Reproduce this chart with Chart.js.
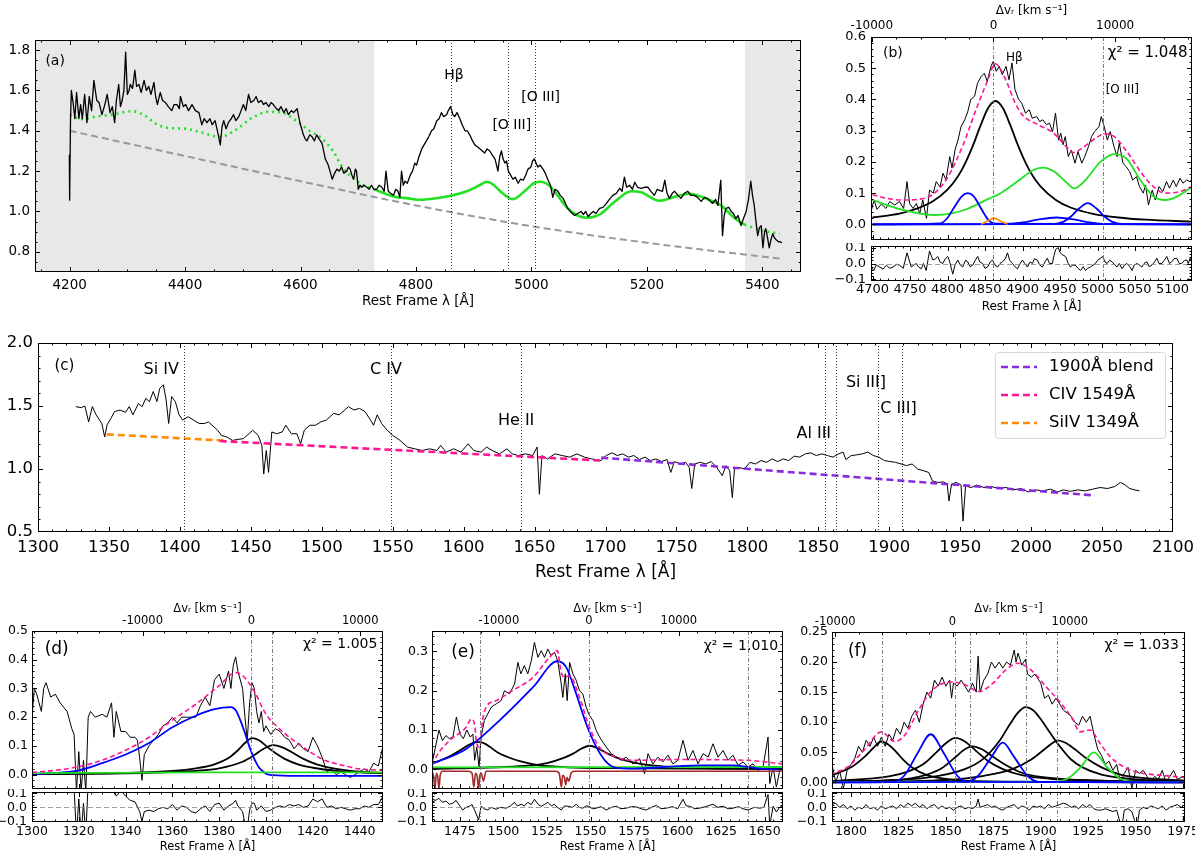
<!DOCTYPE html>
<html>
<head>
<meta charset="utf-8">
<title>Spectral decomposition</title>
<script src="https://cdn.jsdelivr.net/npm/chart.js@4.4.1/dist/chart.umd.min.js"></script>
<style>
  html, body { margin: 0; padding: 0; background: #fff; }
  body { position: relative; width: 1200px; height: 859px; overflow: hidden; }
  canvas { position: absolute; }
</style>
</head>
<body>
<script>
// ----- Data (rest-frame wavelength [A], flux) -----

// (a) optical spectrum, Fe II template, power law
const A_SPEC = [
  [4199.5,1.28],[4200,1.056],[4201.5,1.45],[4203,1.60],[4206,1.54],[4209,1.46],[4212,1.59],[4216,1.46],[4219,1.53],[4222,1.46],
  [4226,1.58],[4230,1.44],[4234,1.57],[4238,1.50],[4242,1.65],[4247,1.55],[4251,1.54],[4256,1.48],[4261,1.53],[4265,1.58],
  [4270,1.49],[4274,1.52],[4278,1.44],[4281,1.55],[4285,1.63],[4288,1.52],[4291,1.55],[4294,1.60],[4297,1.79],[4300,1.58],
  [4303,1.60],[4305,1.63],[4309,1.61],[4313,1.70],[4316,1.62],[4320,1.63],[4324,1.59],[4329,1.65],[4333,1.60],[4337,1.62],
  [4341,1.58],[4346,1.64],[4349,1.57],[4352,1.53],[4357,1.59],[4361,1.55],[4366,1.54],[4371,1.52],[4377,1.50],[4381,1.53],
  [4386,1.53],[4390,1.51],[4392,1.57],[4397,1.52],[4401,1.53],[4406,1.50],[4412,1.53],[4418,1.50],[4424,1.49],[4429,1.43],
  [4433,1.46],[4438,1.44],[4443,1.46],[4447,1.43],[4452,1.45],[4456,1.40],[4461,1.33],[4464,1.42],[4467,1.45],[4471,1.41],
  [4475,1.44],[4480,1.46],[4484,1.48],[4488,1.45],[4493,1.47],[4497,1.50],[4501,1.53],[4505,1.50],[4510,1.58],[4514,1.54],
  [4519,1.55],[4523,1.57],[4527,1.54],[4532,1.55],[4536,1.53],[4540,1.54],[4545,1.52],[4549,1.54],[4553,1.53],[4558,1.51],
  [4562,1.50],[4566,1.52],[4571,1.49],[4575,1.51],[4579,1.48],[4584,1.50],[4588,1.49],[4594,1.51],[4599,1.44],[4602,1.41],
  [4605,1.38],[4608,1.36],[4611,1.35],[4616,1.38],[4620,1.37],[4624,1.35],[4628,1.38],[4632,1.36],[4637,1.34],[4640,1.30],
  [4643,1.26],[4648,1.23],[4652,1.19],[4655,1.16],[4659,1.19],[4663,1.21],[4667,1.20],[4671,1.22],[4675,1.19],[4680,1.20],
  [4683,1.22],[4686,1.21],[4689,1.18],[4692,1.16],[4695,1.21],[4697,1.20],[4700,1.11],[4703,1.13],[4706,1.12],[4710,1.13],
  [4715,1.12],[4719,1.11],[4723,1.13],[4727,1.11],[4732,1.11],[4736,1.13],[4741,1.12],[4745,1.10],[4748,1.20],[4752,1.10],
  [4756,1.09],[4761,1.08],[4765,1.11],[4769,1.10],[4772,1.07],[4775,1.20],[4778,1.13],[4781,1.15],[4785,1.14],[4790,1.18],
  [4794,1.20],[4798,1.24],[4801,1.23],[4805,1.27],[4810,1.31],[4814,1.33],[4818,1.35],[4822,1.37],[4827,1.40],[4831,1.41],
  [4836,1.45],[4840,1.46],[4844,1.49],[4848,1.47],[4853,1.48],[4856,1.50],[4860,1.52],[4864,1.48],[4867,1.47],[4871,1.49],
  [4876,1.46],[4880,1.43],[4885,1.40],[4889,1.40],[4893,1.38],[4898,1.35],[4902,1.33],[4907,1.32],[4911,1.31],[4915,1.30],
  [4919,1.29],[4923,1.31],[4928,1.30],[4932,1.28],[4937,1.26],[4942,1.20],[4945,1.27],[4948,1.30],[4951,1.26],[4954,1.24],
  [4957,1.25],[4960,1.20],[4964,1.18],[4968,1.16],[4972,1.17],[4977,1.14],[4981,1.16],[4986,1.155],[4990,1.18],[4994,1.21],
  [4999,1.22],[5002,1.25],[5005,1.26],[5008,1.24],[5011,1.22],[5015,1.23],[5020,1.21],[5024,1.19],[5029,1.155],[5033,1.13],
  [5037,1.07],[5041,1.11],[5046,1.10],[5050,1.08],[5055,1.065],[5059,1.04],[5063,1.015],[5067,1.00],[5071,0.99],[5075,0.98],
  [5080,0.99],[5086,1.00],[5090,0.985],[5094,1.00],[5098,0.975],[5103,0.99],[5107,1.00],[5112,0.99],[5118,1.015],[5124,1.02],
  [5130,1.04],[5135,1.06],[5141,1.08],[5147,1.09],[5153,1.115],[5157,1.10],[5161,1.17],[5165,1.12],[5170,1.13],[5175,1.11],
  [5179,1.145],[5184,1.12],[5190,1.115],[5196,1.12],[5202,1.12],[5207,1.10],[5213,1.08],[5218,1.11],[5222,1.105],[5227,1.10],
  [5231,1.155],[5235,1.09],[5239,1.065],[5244,1.09],[5248,1.10],[5254,1.08],[5259,1.065],[5265,1.09],[5271,1.10],[5276,1.08],
  [5282,1.08],[5288,1.07],[5294,1.05],[5300,1.07],[5305,1.065],[5310,1.05],[5314,1.04],[5319,1.06],[5323,1.03],[5328,1.155],
  [5331,0.88],[5334,0.98],[5337,1.015],[5342,1.02],[5346,1.00],[5350,0.99],[5354,0.965],[5358,0.98],[5363,0.93],[5368,0.97],
  [5372,1.00],[5376,1.06],[5380,1.15],[5383,1.08],[5386,1.03],[5389,0.95],[5392,0.88],[5395,0.92],[5398,0.93],[5401,0.82],
  [5404,0.90],[5406,0.915],[5409,0.87],[5412,0.82],[5415,0.86],[5418,0.89],[5421,0.87],[5424,0.86],[5428,0.85],[5431,0.85],
  [5434,0.845]
];
const A_FE_LEFT = [[4200,1.478],[4222,1.458],[4245,1.47],[4274,1.48],[4308,1.497],[4329,1.478],[4349,1.436],[4369,1.415],
  [4401,1.41],[4424,1.395],[4461,1.37],[4487,1.403],[4516,1.464],[4545,1.494],[4568,1.49],[4591,1.453],[4614,1.403],
  [4637,1.362],[4657,1.296],[4674,1.213],[4692,1.164],[4706,1.134],[4726,1.112]];
const A_FE_FIT = [[4726,1.112],[4763,1.073],[4787,1.065],[4803,1.058],[4821,1.061],[4860,1.078],[4888,1.10],[4910,1.13],
  [4923,1.147],[4935,1.13],[4950,1.09],[4968,1.061],[4988,1.10],[5004,1.14],[5016,1.147],[5030,1.13],[5040,1.10],
  [5063,1.015],[5080,0.98],[5095,0.969],[5110,0.975],[5121,0.99],[5144,1.048],[5173,1.10],[5190,1.095],[5222,1.053],
  [5248,1.073],[5274,1.088],[5305,1.061],[5328,1.031],[5351,0.969],[5369,0.935]];
const A_FE_RIGHT = [[5369,0.935],[5398,0.907],[5430,0.89]];
const A_POWERLAW = [[4200,1.40],[4400,1.275],[4600,1.15],[4800,1.03],[5000,0.927],[5200,0.845],[5435,0.765]];
const A_FIT_WINDOW = [4728, 5370];
const A_LINES = [4861.3, 4958.9, 5006.8];
const A_XTICKS = [4200, 4400, 4600, 4800, 5000, 5200, 5400];
const A_YTICKS = [0.8, 1.0, 1.2, 1.4, 1.6, 1.8];

// (b) H-beta region fit
const B_SPEC = [
  [4698,0.040],[4702,0.078],[4706,0.048],[4712,0.065],[4718,0.051],[4723,0.073],[4729.5,0.062],[4736,0.073],[4741.5,0.051],[4746,0.137],
  [4749.5,0.067],[4754,0.051],[4758.5,0.067],[4763,0.035],[4767,0.078],[4772,0.019],[4776,0.11],[4781,0.10],[4785,0.137],[4790,0.12],
  [4794,0.164],[4798,0.142],[4803,0.217],[4806,0.18],[4810,0.238],[4814,0.27],[4818,0.313],[4823,0.335],[4827,0.361],[4831,0.40],
  [4836,0.41],[4840,0.452],[4845,0.474],[4849,0.484],[4853,0.458],[4858,0.506],[4861,0.522],[4865,0.49],[4869,0.506],[4873,0.479],
  [4878,0.506],[4882,0.463],[4886,0.517],[4890,0.431],[4895,0.40],[4899,0.388],[4904,0.356],[4909,0.367],[4913,0.34],[4919,0.345],
  [4923,0.329],[4927,0.335],[4932,0.319],[4936,0.324],[4940,0.297],[4944,0.356],[4948,0.27],[4951,0.292],[4954,0.255],[4957,0.281],
  [4961,0.217],[4965,0.238],[4970,0.196],[4974,0.233],[4979,0.196],[4983,0.217],[4988,0.249],[4992,0.281],[4996,0.297],[5002,0.313],
  [5005,0.345],[5009,0.313],[5013,0.27],[5017,0.297],[5022,0.249],[5026,0.217],[5029,0.26],[5034,0.196],[5038,0.185],[5043,0.169],
  [5047,0.142],[5052,0.153],[5056,0.121],[5061,0.10],[5064,0.126],[5068,0.062],[5073,0.11],[5077,0.078],[5082,0.121],[5087,0.105],
  [5092,0.137],[5096,0.116],[5101,0.142],[5105,0.121],[5110,0.148],[5114,0.132],[5119,0.142],[5123,0.137],[5125,0.142]
];
const B_TOTAL = [[4700,0.095],[4720,0.083],[4740,0.078],[4760,0.08],[4780,0.095],[4800,0.15],[4820,0.25],[4840,0.38],[4855,0.47],
  [4863,0.515],[4870,0.5],[4880,0.45],[4890,0.39],[4900,0.35],[4920,0.32],[4940,0.295],[4960,0.245],[4968,0.23],[4980,0.245],
  [5000,0.28],[5010,0.29],[5020,0.285],[5040,0.23],[5060,0.16],[5075,0.12],[5090,0.1],[5110,0.105],[5125,0.12]];
const B_BROAD = [[4700,0.022],[4720,0.028],[4740,0.037],[4760,0.051],[4780,0.073],[4800,0.111],[4814,0.154],[4824,0.198],
  [4834,0.253],[4844,0.316],[4854,0.372],[4864,0.395],[4874,0.372],[4884,0.316],[4894,0.253],[4904,0.198],[4914,0.154],
  [4924,0.122],[4944,0.079],[4964,0.054],[4994,0.034],[5028,0.022],[5064,0.015],[5125,0.009]];
const B_BLUE1 = [[4700,0],[4790,0.003],[4799,0.018],[4809,0.055],[4819,0.09],[4827,0.1],[4835,0.09],[4845,0.05],[4855,0.013],[4865,0.002],[5125,0]];
const B_BLUE2 = [[4700,0],[4880,0.001],[4900,0.006],[4920,0.015],[4945,0.022],[4970,0.015],[4990,0.006],[5010,0.001],[5125,0]];
const B_BLUE3 = [[4700,0],[4940,0.001],[4955,0.009],[4965,0.026],[4975,0.05],[4987,0.068],[4999,0.05],[5009,0.026],[5019,0.009],[5034,0.001],[5125,0]];
const B_NARROW = [[4845,0],[4853,0.01],[4862,0.02],[4871,0.01],[4880,0]];
const B_FEII = [[4700,0.078],[4738,0.048],[4783,0.03],[4805,0.035],[4827,0.05],[4853,0.08],[4871,0.1],[4893,0.137],[4915,0.175],
  [4928,0.182],[4942,0.169],[4960,0.131],[4969,0.115],[4982,0.137],[5004,0.2],[5022,0.225],[5039,0.21],[5057,0.142],
  [5075,0.089],[5090,0.078],[5106,0.089],[5125,0.119]];
const B_RESID = [
  [4698,-0.022],[4701.7,-0.044],[4705,-0.01],[4709.7,-0.022],[4714,-0.035],[4718.5,-0.011],[4723,-0.03],[4727.4,-0.022],[4732,-0.005],[4736.2,-0.011],
  [4741,-0.03],[4746,0.067],[4751.7,-0.022],[4755,-0.01],[4758.3,0.0],[4761,-0.02],[4765,-0.033],[4768,0.0],[4771.6,-0.044],[4776,0.078],
  [4780.5,0.022],[4784,0.03],[4787.1,0.044],[4790,0.01],[4793.7,0.0],[4797,0.03],[4800.4,0.044],[4803,0.01],[4807,-0.067],[4810,-0.01],
  [4813.7,0.022],[4817,-0.01],[4820.3,-0.022],[4824,0.02],[4827,0.011],[4830,-0.02],[4833.6,-0.011],[4837,0.02],[4840.2,0.044],[4843,0.01],
  [4846.8,0.0],[4850,-0.03],[4853.5,-0.022],[4857,0.01],[4860.1,0.022],[4863,-0.01],[4866.8,-0.022],[4870,0.0],[4873.4,0.011],[4877,0.03],
  [4880,0.067],[4883,0.02],[4886.7,0.0],[4890,-0.02],[4893.3,-0.033],[4897,0.0],[4899.9,0.022],[4903,0.0],[4906.6,-0.022],[4910,0.01],
  [4913.2,0.0],[4916,0.03],[4919.8,0.022],[4923,-0.01],[4926.5,-0.022],[4930,0.01],[4933.1,0.033],[4936,0.0],[4939.8,0.0],[4942,0.05],
  [4944.2,0.089],[4947.7,0.10],[4950,0.07],[4953,0.056],[4957.5,0.044],[4961,0.0],[4964.1,-0.022],[4967,-0.01],[4970.7,-0.011],[4974,-0.03],
  [4977.4,-0.044],[4981,-0.02],[4984,-0.044],[4987,-0.03],[4990.6,-0.022],[4994,-0.01],[4997.3,0.0],[5000,0.02],[5003.9,0.033],[5007,0.044],
  [5010,0.01],[5012.8,0.0],[5016,0.02],[5019.4,0.011],[5023,-0.01],[5026,-0.022],[5029,0.0],[5032.7,-0.033],[5036,-0.01],[5039.3,0.0],
  [5043,-0.02],[5046,-0.044],[5049,-0.01],[5052.6,0.0],[5056,-0.01],[5059.2,-0.022],[5062,0.0],[5065.9,0.011],[5069,-0.02],[5072.5,-0.011],
  [5076,0.01],[5079.1,0.033],[5082,0.0],[5085.8,0.0],[5089,0.02],[5092.4,0.044],[5096,0.0],[5099,0.011],[5102,0.03],[5105.7,0.033],
  [5109,0.0],[5112.3,0.0],[5116,0.02],[5119,0.022],[5121,0.0],[5123.4,0.033],[5125,0.02]
];
const B_LINES = [4861.3, 5006.8];
const B_XTICKS = [4700, 4750, 4800, 4850, 4900, 4950, 5000, 5050, 5100];
const B_YTICKS = [0.0, 0.1, 0.2, 0.3, 0.4, 0.5, 0.6];

// (c) UV spectrum with local power-law continua
const C_SPEC = [
  [1326.6,1.495],[1330.5,1.487],[1333,1.50],[1335.7,1.374],[1338.3,1.495],[1341,1.43],[1345,1.36],[1347,1.254],[1348.7,1.35],[1351.3,1.40],
  [1353.9,1.455],[1357.8,1.468],[1361.7,1.45],[1364.3,1.495],[1366.9,1.43],[1370.8,1.52],[1373.4,1.495],[1376,1.56],[1378.6,1.535],[1381.2,1.615],
  [1383.8,1.535],[1385.8,1.64],[1388.4,1.668],[1390.3,1.548],[1392.1,1.361],[1394.2,1.575],[1396.8,1.535],[1399.4,1.43],[1402,1.388],[1405.8,1.415],
  [1409.7,1.388],[1413.6,1.361],[1417.5,1.361],[1420.1,1.374],[1424,1.334],[1426.6,1.308],[1429.2,1.267],[1433.1,1.254],[1437,1.227],[1440.9,1.235],
  [1444.8,1.241],[1448.7,1.28],[1451.3,1.308],[1455.2,1.267],[1457.8,1.187],[1459.1,0.96],[1460.9,1.147],[1462.5,0.973],[1464.8,1.294],[1468.2,1.28],
  [1472.1,1.294],[1474.7,1.347],[1478.6,1.28],[1482.5,1.28],[1485.1,1.20],[1487.7,1.308],[1491.6,1.347],[1495.5,1.347],[1499.4,1.374],[1503.2,1.388],
  [1508.4,1.441],[1512.3,1.43],[1516.2,1.468],[1518.8,1.495],[1522.7,1.468],[1526.6,1.481],[1530.5,1.455],[1534.4,1.388],[1536.5,1.347],[1539.1,1.43],
  [1542.2,1.361],[1546.1,1.308],[1550,1.267],[1555.2,1.227],[1560.4,1.174],[1565.6,1.16],[1570.8,1.147],[1576,1.16],[1581.2,1.147],[1583.8,1.187],
  [1587.7,1.134],[1592.9,1.16],[1598.1,1.134],[1603.2,1.20],[1607.1,1.147],[1612.3,1.134],[1616.2,1.174],[1620.1,1.147],[1625.3,1.12],[1630.5,1.16],
  [1634.4,1.12],[1638.3,1.107],[1643.5,1.12],[1648.7,1.107],[1651.8,1.174],[1653.4,0.80],[1655.2,1.107],[1659.1,1.08],[1664.3,1.12],[1669.5,1.107],
  [1674.7,1.094],[1679.9,1.12],[1685.1,1.094],[1690.3,1.08],[1696.8,1.067],[1700.5,1.107],[1704.4,1.128],[1708.3,1.107],[1712.2,1.12],[1716.1,1.094],
  [1720,1.107],[1723.9,1.075],[1727.8,1.094],[1731.7,1.067],[1735.6,1.08],[1739.5,1.059],[1743.4,1.075],[1746,0.973],[1748.6,1.059],[1752.5,1.04],
  [1756.4,1.053],[1759,1.013],[1760.8,0.845],[1762.9,1.04],[1766.8,1.053],[1770.6,1.04],[1774.5,1.059],[1778.4,1.013],[1782.3,0.947],[1784.9,1.027],
  [1787.5,0.987],[1789.4,0.773],[1790.9,1.0],[1794,1.013],[1797.9,1.0],[1801.8,1.053],[1805.7,1.04],[1809.6,1.067],[1813.5,1.053],[1817.4,1.08],
  [1821.3,1.059],[1825.2,1.08],[1829.1,1.067],[1833,1.102],[1836.9,1.094],[1840.8,1.12],[1844.7,1.128],[1848.6,1.107],[1852.5,1.12],[1856.4,1.107],
  [1860.3,1.094],[1864.2,1.12],[1867.5,1.134],[1869.4,1.075],[1873.2,1.107],[1877.1,1.112],[1881,1.12],[1884.9,1.134],[1888.8,1.107],[1892.7,1.094],
  [1896.6,1.067],[1900.5,1.059],[1904.4,1.053],[1908.3,1.04],[1912.2,1.027],[1916.1,1.04],[1920,1.0],[1923.9,0.987],[1927.8,0.973],[1930.4,0.906],
  [1934.3,0.893],[1938.2,0.898],[1940.8,0.88],[1942.1,0.746],[1943.9,0.88],[1947.3,0.893],[1950.6,0.872],[1952,0.586],[1953.8,0.866],[1957.7,0.853],
  [1961.6,0.872],[1966.8,0.853],[1972,0.861],[1977.1,0.845],[1982.3,0.853],[1987.5,0.834],[1992.7,0.845],[1997.9,0.818],[2003.1,0.834],[2008.3,0.826],
  [2013.5,0.840],[2018.7,0.818],[2022.6,0.834],[2027.8,0.823],[2033,0.834],[2038.2,0.826],[2043.4,0.840],[2048.6,0.853],[2053.8,0.845],[2059,0.861],
  [2062.9,0.893],[2065.5,0.88],[2069.4,0.845],[2073.2,0.834],[2076.4,0.826]
];
const C_CONT_SIIV = [[1348.5,1.275],[1432,1.225]];
const C_CONT_CIV = [[1428,1.222],[1699,1.066]];
const C_CONT_1900 = [[1697,1.09],[2045,0.79]];
const C_LINES = [1402.8, 1549.06, 1640.4, 1854.7, 1862.8, 1892.0, 1908.7];
const C_XTICKS = [1300, 1350, 1400, 1450, 1500, 1550, 1600, 1650, 1700, 1750, 1800, 1850, 1900, 1950, 2000, 2050, 2100];
const C_YTICKS = [0.5, 1.0, 1.5, 2.0];

// (d) Si IV 1400 region fit
const D_SPEC = [
  [1300,0.20],[1301,0.30],[1302,0.28],[1304,0.22],[1305,0.30],[1306,0.32],[1308,0.27],[1310,0.28],[1312,0.25],[1315,0.22],
  [1317,0.16],[1318,0.14],[1319,-0.06],[1320,0.08],[1321,-0.06],[1322,0.05],[1323,-0.06],[1324,0.20],[1325,0.22],[1327,0.20],
  [1330,0.21],[1332,0.20],[1334,0.25],[1335,0.13],[1336,0.22],[1338,0.15],[1340,0.15],[1342,0.13],[1344,0.13],[1345,0.12],
  [1346,0.06],[1347,-0.02],[1348,0.07],[1350,0.10],[1352,0.12],[1354,0.14],[1356,0.17],[1358,0.18],[1360,0.20],[1362,0.18],
  [1364,0.20],[1366,0.20],[1368,0.20],[1370,0.20],[1372,0.24],[1374,0.27],[1376,0.24],[1378,0.33],[1380,0.35],[1382,0.30],
  [1384,0.36],[1385,0.30],[1386,0.38],[1387,0.41],[1388,0.36],[1389,0.33],[1390,0.30],[1391,0.20],[1392,0.12],[1393,0.25],
  [1394,0.32],[1395,0.30],[1396,0.22],[1397,0.18],[1398,0.22],[1399,0.15],[1400,0.17],[1402,0.14],[1404,0.16],[1406,0.15],
  [1408,0.13],[1410,0.12],[1412,0.09],[1414,0.11],[1416,0.09],[1418,0.08],[1420,0.13],[1422,0.10],[1424,0.06],[1426,0.01],
  [1428,0.02],[1430,0.00],[1432,0.01],[1434,0.00],[1436,-0.01],[1438,0.00],[1440,0.01],[1442,0.02],[1444,0.01],[1446,0.04],
  [1448,0.03],[1450,0.10]
];
const D_TOTAL = [[1300,0.008],[1310,0.015],[1320,0.028],[1330,0.05],[1340,0.085],[1350,0.13],[1360,0.19],[1370,0.245],[1380,0.31],
  [1387,0.355],[1390,0.345],[1395,0.29],[1400,0.21],[1405,0.165],[1410,0.13],[1415,0.1],[1420,0.073],[1425,0.05],[1430,0.038],
  [1440,0.02],[1450,0.015]];
const D_BLUE = [[1300,0.002],[1310,0.006],[1320,0.015],[1330,0.04],[1340,0.07],[1350,0.11],[1360,0.165],[1370,0.205],[1378,0.228],
  [1385,0.235],[1387,0.225],[1389,0.19],[1391,0.145],[1393,0.095],[1395,0.055],[1397,0.025],[1399,0.009],[1401,0.0],[1410,-0.004],[1450,-0.004]];
const D_BROAD1 = [[1300,0.002],[1340,0.006],[1360,0.013],[1370,0.022],[1378,0.036],[1384,0.058],[1388,0.085],[1391,0.11],[1394,0.127],
  [1397,0.12],[1400,0.1],[1404,0.075],[1408,0.055],[1414,0.035],[1420,0.024],[1430,0.013],[1440,0.008],[1450,0.005]];
const D_BROAD2 = [[1300,0.002],[1350,0.006],[1370,0.013],[1380,0.022],[1390,0.045],[1395,0.068],[1399,0.09],[1403,0.103],[1407,0.095],
  [1411,0.078],[1416,0.055],[1422,0.035],[1430,0.02],[1440,0.01],[1450,0.006]];
const D_FEII = [[1300,0.005],[1375,0.008],[1450,0.008]];
const D_RESID = [
  [1300,0.19],[1302,0.28],[1304,0.2],[1306,0.3],[1308,0.25],[1310,0.26],[1312,0.23],[1314,0.2],[1316,0.18],[1318,0.13],
  [1319,-0.2],[1320,0.06],[1321,-0.2],[1322,0.03],[1323,-0.2],[1324,0.18],[1326,0.19],[1328,0.17],[1330,0.17],[1332,0.15],
  [1334,0.18],[1336,0.08],[1338,0.12],[1340,0.08],[1342,0.05],[1344,0.04],[1346,-0.03],[1347,-0.1],[1348,-0.03],[1350,-0.02],
  [1352,-0.03],[1354,-0.01],[1356,0.0],[1358,-0.01],[1360,0.02],[1362,-0.02],[1364,0.01],[1366,0.0],[1368,-0.03],[1370,-0.04],
  [1372,-0.01],[1374,0.01],[1376,-0.03],[1378,0.02],[1380,0.03],[1382,-0.02],[1384,0.01],[1386,0.03],[1387,0.05],[1388,0.01],
  [1390,-0.03],[1391,-0.12],[1392,-0.15],[1393,-0.02],[1394,0.03],[1395,0.03],[1396,-0.02],[1398,0.01],[1400,-0.03],[1402,-0.02],
  [1404,0.0],[1406,0.01],[1408,0.0],[1410,0.02],[1412,0.01],[1414,0.02],[1416,0.0],[1418,0.01],[1420,0.06],[1422,0.04],
  [1424,0.06],[1426,0.0],[1428,0.01],[1430,-0.01],[1432,0.0],[1434,-0.01],[1436,-0.02],[1438,-0.01],[1440,-0.01],[1442,0.01],
  [1444,0.0],[1446,0.02],[1448,0.02],[1450,0.08]
];
const D_LINES = [1393.76, 1402.77];
const D_XTICKS = [1300, 1320, 1340, 1360, 1380, 1400, 1420, 1440];
const D_YTICKS = [0.0, 0.1, 0.2, 0.3, 0.4, 0.5];

// (e) C IV 1549 region fit
const E_SPEC = [
  [1459,0.014],[1463,0.1],[1465,0.073],[1467,0.086],[1469,0.078],[1471,0.082],[1473,0.133],[1475,0.09],[1477,0.078],[1479,0.1],
  [1481,0.082],[1482.5,0.09],[1483.5,0.023],[1484.7,0.057],[1486,0.006],[1487.2,0.082],[1489,0.124],[1491,0.141],[1493,0.158],[1496,0.167],
  [1498.7,0.175],[1500.6,0.2],[1503.5,0.192],[1506.4,0.217],[1508.3,0.272],[1510,0.243],[1512,0.264],[1514,0.243],[1516,0.276],[1517.8,0.323],
  [1519.8,0.285],[1521.7,0.302],[1523.6,0.285],[1525.5,0.306],[1527.4,0.289],[1529.3,0.298],[1531.2,0.276],[1533.2,0.217],[1534.1,0.183],[1535.5,0.243],
  [1536.6,0.175],[1538,0.272],[1539.9,0.243],[1541.8,0.226],[1543.7,0.2],[1545.6,0.192],[1547.5,0.158],[1549.4,0.137],[1551.4,0.124],[1553.3,0.099],
  [1555.2,0.082],[1557.1,0.069],[1559,0.057],[1561.9,0.04],[1564.8,0.031],[1567.6,0.023],[1570.5,0.031],[1574.3,0.014],[1578.2,0.027],[1581,-0.011],
  [1583,0.04],[1585.8,0.014],[1588.7,0.031],[1591.6,0.019],[1594.5,0.036],[1597.3,0.014],[1600.2,0.023],[1603.1,0.074],[1606,0.023],[1608.8,0.048],
  [1611.7,0.014],[1614.6,0.04],[1617.5,0.031],[1620.3,0.065],[1623.2,0.031],[1626.1,0.048],[1629,0.023],[1631.8,0.036],[1634.7,0.01],[1637.6,0.019],
  [1640.4,0.006],[1643.3,0.014],[1646.2,-0.003],[1649,0.006],[1651.9,0.082],[1652.9,-0.036],[1654.8,0.006],[1656.7,-0.045],[1658.6,-0.003],[1660.5,0.006]
];
const E_TOTAL = [[1459,0.01],[1462.5,0.04],[1469,0.073],[1478.6,0.107],[1481.5,0.128],[1483.4,0.116],[1484.7,0.065],[1486.2,0.057],
  [1488,0.124],[1490,0.158],[1496,0.175],[1505,0.2],[1517,0.234],[1526.5,0.285],[1531,0.302],[1533,0.25],[1535,0.234],
  [1538,0.238],[1543.7,0.183],[1549,0.112],[1555,0.057],[1565,0.031],[1575,0.023],[1600,0.025],[1640,0.023],[1660,0.014]];
const E_BLUE = [[1459,0.014],[1478.6,0.052],[1497.7,0.124],[1517,0.209],[1531,0.275],[1536,0.26],[1541.8,0.192],[1547.5,0.116],
  [1553.3,0.057],[1559,0.019],[1564.8,0.004],[1575,0.002],[1600,0.008],[1612.7,0.01],[1631.8,0.01],[1640.4,0.006],[1650,0.001],[1660,0.0]];
const E_BROAD1 = [[1459,0.015],[1465,0.025],[1470,0.035],[1475,0.048],[1480,0.062],[1483,0.068],[1486,0.07],[1489,0.066],[1492,0.058],
  [1497,0.042],[1502,0.032],[1510,0.02],[1520,0.011],[1530,0.007],[1545,0.004],[1560,0.003],[1660,0.001]];
const E_BROAD2 = [[1459,0.001],[1500,0.006],[1515,0.01],[1525,0.016],[1535,0.03],[1540,0.04],[1545,0.053],[1549.5,0.06],[1554,0.054],
  [1559,0.042],[1565,0.03],[1575,0.017],[1590,0.008],[1610,0.004],[1640,0.002],[1660,0.001]];
const E_FEII = [[1459,0.005],[1660,0.006]];
const E_ABS = [[1459,-0.005],[1460,-0.02],[1460.7,-0.05],[1461.5,-0.01],[1462.3,-0.02],[1463,-0.05],[1463.7,-0.015],[1465,-0.005],
  [1480,-0.005],[1482,-0.01],[1483,-0.045],[1484,-0.01],[1485,-0.02],[1485.8,-0.05],[1486.5,-0.015],[1487.3,-0.01],[1488.5,-0.03],
  [1490,-0.005],[1530,-0.005],[1532,-0.01],[1533.3,-0.045],[1534,-0.015],[1535,-0.02],[1535.8,-0.04],[1536.5,-0.02],[1537.5,-0.03],
  [1539,-0.008],[1541,-0.005],[1660,-0.005]];
const E_RESID = [
  [1458.8,0.036],[1461,0.05],[1462.9,0.064],[1465.2,0.036],[1467,0.045],[1469,0.022],[1471,0.03],[1472.8,0.05],[1475,0.01],[1476.6,-0.019],
  [1478.5,0.0],[1480.5,0.008],[1482,0.02],[1483.4,-0.019],[1485.8,-0.089],[1487.2,0.008],[1489,-0.01],[1491,-0.019],[1493,0.0],[1495.8,-0.014],
  [1498,0.0],[1501.6,-0.006],[1504,0.01],[1506.3,0.036],[1508,0.01],[1510.2,0.022],[1512,0.01],[1514,0.036],[1516,0.02],[1517.8,0.058],
  [1520,0.02],[1521.7,0.008],[1523.5,0.02],[1525.5,0.036],[1527.5,0.01],[1529.3,0.022],[1531,0.0],[1533.2,-0.019],[1535,0.01],[1537,0.008],
  [1539.5,0.0],[1541.8,0.022],[1543.5,0.0],[1545.6,-0.006],[1547.5,0.01],[1549.1,0.008],[1551,-0.01],[1553.3,-0.006],[1556,0.005],[1559,-0.019],
  [1562,0.0],[1564.8,0.008],[1567.5,-0.01],[1570.5,-0.006],[1573.5,0.005],[1576.3,0.003],[1579,-0.01],[1582,-0.019],[1585,0.0],[1587.8,0.014],
  [1590.5,-0.01],[1593.5,-0.006],[1597,0.005],[1600,-0.01],[1603.1,0.058],[1605,0.01],[1606.9,0.008],[1610,-0.01],[1612.7,-0.006],[1616,0.005],
  [1620.3,0.022],[1623,0.0],[1626.1,0.008],[1629,-0.01],[1631.8,-0.006],[1635,0.005],[1637.5,-0.01],[1640.4,-0.019],[1644,0.0],[1647.1,-0.006],
  [1649.5,0.0],[1651.9,0.092],[1652.9,-0.13],[1654.8,0.008],[1656.7,-0.033],[1658.5,0.0],[1660.5,0.008]
];
const E_LINES = [1486.5, 1549.06, 1640.4];
const E_XTICKS = [1475, 1500, 1525, 1550, 1575, 1600, 1625, 1650];
const E_YTICKS = [0.0, 0.1, 0.2, 0.3];

// (f) 1900 A blend fit
const F_SPEC = [
  [1790,0.03],[1792,0.0],[1794,0.02],[1796,-0.01],[1798,0.02],[1800,0.03],[1802,0.04],[1804,0.06],[1806,0.05],[1808,0.07],
  [1810,0.06],[1812,0.075],[1814,0.06],[1816,0.075],[1818,0.06],[1820,0.08],[1822,0.07],[1824,0.09],[1826,0.08],[1828,0.10],
  [1830,0.09],[1832,0.11],[1834,0.12],[1836,0.10],[1838,0.13],[1840,0.15],[1842,0.14],[1844,0.17],[1846,0.16],[1848,0.175],
  [1850,0.16],[1852,0.17],[1853,0.14],[1854,0.165],[1856,0.16],[1858,0.17],[1860,0.16],[1862,0.15],[1864,0.165],[1866,0.15],
  [1867,0.21],[1868,0.15],[1870,0.17],[1872,0.18],[1874,0.20],[1876,0.19],[1878,0.20],[1880,0.19],[1882,0.20],[1884,0.195],
  [1886,0.22],[1887,0.20],[1888,0.215],[1890,0.195],[1892,0.205],[1893,0.18],[1895,0.175],[1897,0.18],[1900,0.165],[1902,0.14],
  [1904,0.145],[1906,0.13],[1908,0.14],[1910,0.13],[1912,0.12],[1914,0.115],[1916,0.11],[1918,0.10],[1920,0.095],[1922,0.11],
  [1924,0.10],[1926,0.11],[1928,0.08],[1930,0.055],[1932,0.045],[1934,0.03],[1936,0.035],[1938,0.02],[1940,0.03],[1942,0.0],
  [1944,0.015],[1946,0.025],[1948,-0.01],[1950,0.02],[1952,0.015],[1954,0.02],[1956,0.01],[1958,0.0],[1960,0.01],[1962,0.005],
  [1964,0.02],[1966,0.0],[1968,0.01],[1970,0.02],[1972,0.005],[1975,0.01]
];
const F_TOTAL = [[1789,0.013],[1798.4,0.026],[1807,0.054],[1816,0.084],[1823,0.068],[1828.5,0.079],[1835.6,0.12],[1842.7,0.153],
  [1853.3,0.167],[1860.4,0.162],[1867.4,0.151],[1874.5,0.164],[1881.6,0.187],[1887.8,0.198],[1895.8,0.184],[1902.8,0.159],
  [1910,0.134],[1917,0.104],[1920.5,0.084],[1925.9,0.087],[1931.2,0.065],[1936.5,0.043],[1943.5,0.026],[1952.4,0.016],
  [1963,0.012],[1976,0.008]];
const F_BROAD1 = [[1790,0.012],[1800,0.025],[1808,0.045],[1812,0.058],[1816,0.068],[1820,0.062],[1824,0.05],[1828,0.036],[1832,0.025],
  [1840,0.012],[1850,0.006],[1860,0.003],[1900,0.001],[1976,0.0]];
const F_BROAD2 = [[1790,0.002],[1820,0.01],[1830,0.018],[1838,0.03],[1845,0.05],[1850,0.065],[1855,0.074],[1860,0.068],[1866,0.052],
  [1872,0.036],[1880,0.022],[1890,0.012],[1905,0.006],[1930,0.003],[1976,0.001]];
const F_BROAD3 = [[1790,0.001],[1830,0.006],[1840,0.013],[1848,0.024],[1855,0.042],[1860,0.055],[1864,0.06],[1869,0.055],[1875,0.042],
  [1882,0.028],[1890,0.016],[1900,0.009],[1920,0.004],[1976,0.001]];
const F_BROAD4 = [[1790,0.001],[1840,0.008],[1860,0.022],[1870,0.04],[1878,0.068],[1884,0.098],[1888,0.116],[1892,0.125],[1896,0.12],
  [1900,0.105],[1905,0.082],[1910,0.06],[1916,0.038],[1922,0.025],[1932,0.013],[1950,0.005],[1976,0.002]];
const F_BROAD5 = [[1790,0.0],[1850,0.004],[1870,0.011],[1885,0.022],[1895,0.038],[1902,0.055],[1906,0.065],[1909,0.07],[1913,0.066],
  [1918,0.055],[1924,0.04],[1932,0.025],[1942,0.013],[1955,0.007],[1976,0.003]];
const F_BLUE1 = [[1790,0.0],[1822,0.001],[1828,0.011],[1835,0.048],[1842,0.08],[1849,0.048],[1856,0.011],[1862,0.001],[1976,0.0]];
const F_BLUE2 = [[1790,0.0],[1861,0.001],[1867,0.011],[1874,0.042],[1880,0.066],[1886,0.042],[1893,0.011],[1899,0.001],[1976,0.0]];
const F_GREEN = [[1790,0.001],[1905,0.001],[1914,0.006],[1921,0.025],[1928,0.05],[1935,0.025],[1942,0.006],[1950,0.001],[1976,0.001]];
const F_RESID = [
  [1790,0.02],[1792,0.03],[1794,0.0],[1796,0.02],[1798,-0.01],[1800,0.01],[1802,-0.02],[1804,0.0],[1806,-0.01],[1808,0.02],
  [1810,-0.01],[1812,0.0],[1814,-0.02],[1816,0.01],[1818,-0.01],[1820,0.0],[1822,0.01],[1824,-0.01],[1826,0.02],[1828,0.0],
  [1830,0.03],[1832,0.01],[1834,0.03],[1836,0.0],[1838,0.02],[1840,-0.01],[1842,0.01],[1844,0.02],[1846,-0.01],[1848,0.01],
  [1850,-0.01],[1852,0.0],[1854,-0.02],[1856,0.0],[1858,0.01],[1860,-0.01],[1862,0.0],[1864,-0.01],[1866,0.01],[1867,0.06],
  [1868,0.0],[1870,0.01],[1872,0.02],[1874,0.0],[1876,0.01],[1878,-0.01],[1880,-0.02],[1882,0.0],[1884,0.01],[1886,0.02],
  [1888,-0.01],[1890,0.01],[1892,0.0],[1894,-0.02],[1896,0.01],[1898,0.0],[1900,0.01],[1902,-0.01],[1904,0.02],[1906,0.0],
  [1908,0.01],[1910,0.02],[1912,0.03],[1914,0.02],[1916,0.0],[1918,0.01],[1920,-0.01],[1922,0.02],[1924,0.0],[1926,0.02],
  [1928,-0.01],[1930,-0.02],[1932,-0.02],[1934,-0.01],[1936,-0.02],[1938,-0.03],[1940,-0.02],[1942,-0.12],[1943,-0.12],[1944,-0.02],
  [1946,-0.01],[1948,-0.03],[1950,-0.12],[1951,-0.12],[1952,-0.02],[1954,0.0],[1956,-0.01],[1958,0.01],[1960,0.0],[1962,-0.01],
  [1964,0.01],[1966,-0.02],[1968,0.0],[1970,0.01],[1972,0.02],[1974,0.0],[1975,0.01]
];
const F_LINES = [1816.5, 1854.7, 1862.8, 1892.0, 1908.7];
const F_XTICKS = [1800, 1825, 1850, 1875, 1900, 1925, 1950, 1975];
const F_YTICKS = [0.00, 0.05, 0.10, 0.15, 0.20, 0.25];

const RES_YTICKS = [-0.1, 0.0, 0.1];
const VEL_TICKS = [-10000, 0, 10000];
</script>
<script>
/**
 * Builds the six spectral panels (and four residual strips) as separate
 * Chart.js canvases placed at fixed pixel positions on the page.
 */
(function () {
  "use strict";

  // ----- Configuration -----
  const C_KMS = 299792.458;
  const SANS = "'DejaVu Sans', 'Noto Sans', sans-serif";

  const BLACK = "#000000";
  const GREEN = "#22e022";
  const MAGENTA = "#ff1493";
  const BLUE = "#0000ff";
  const ORANGE = "#ff8c00";
  const PURPLE = "#8a2be2";
  const BROWN = "#a52a2a";
  const GREY = "#999999";

  const XTITLE = "Rest Frame \u03bb [\u00c5]";
  const VTITLE = "\u0394v\u1d63 [km s\u207b\u00b9]";

  const fmt = (dec) => (v) => (v < 0 ? "\u2212" : "") + Math.abs(v).toFixed(dec);

  function series(pairs, color, width, dash, smooth, label) {
    return {
      label: label || "",
      data: pairs.map(([x, y]) => ({ x, y })),
      borderColor: color,
      backgroundColor: color,
      borderWidth: width,
      borderDash: dash || [],
      pointRadius: 0,
      fill: false,
      tension: 0,
      cubicInterpolationMode: smooth ? "monotone" : "default",
      borderJoinStyle: "round",
    };
  }

  // ----- Decoration plugin: shaded windows, line markers, labels, frame, inward ticks -----
  function strokeTicks(ctx, a, scale, sides, minor) {
    const marks = scale.ticks.map((t) => [t.value, 5]);
    if (minor) {
      for (let k = Math.ceil(scale.min / minor - 1e-6); k * minor <= scale.max + 1e-9; k++) marks.push([k * minor, 2.5]);
    }
    ctx.beginPath();
    marks.forEach(([v, len]) => {
      const p = Math.round(scale.getPixelForValue(v)) + 0.5;
      if (scale.isHorizontal()) {
        if (p < a.left || p > a.right) return;
        if (sides.includes("bottom")) { ctx.moveTo(p, a.bottom); ctx.lineTo(p, a.bottom - len); }
        if (sides.includes("top")) { ctx.moveTo(p, a.top); ctx.lineTo(p, a.top + len); }
      } else {
        if (p < a.top || p > a.bottom) return;
        if (sides.includes("left")) { ctx.moveTo(a.left, p); ctx.lineTo(a.left + len, p); }
        if (sides.includes("right")) { ctx.moveTo(a.right, p); ctx.lineTo(a.right - len, p); }
      }
    });
    ctx.stroke();
  }

  const deco = {
    id: "deco",
    beforeDatasetsDraw(chart, args, o) {
      const { ctx, chartArea: a, scales } = chart;
      (o.bands || []).forEach(([x0, x1]) => {
        const p0 = Math.max(a.left, scales.x.getPixelForValue(x0));
        const p1 = Math.min(a.right, scales.x.getPixelForValue(x1));
        ctx.fillStyle = "#e8e8e8";
        ctx.fillRect(p0, a.top, p1 - p0, a.height);
      });
    },
    afterDatasetsDraw(chart, args, o) {
      const { ctx, chartArea: a, scales } = chart;
      const x = scales.x, y = scales.y;
      ctx.save();

      // vertical line markers
      if (o.vlines) {
        ctx.strokeStyle = o.vlines.color;
        ctx.lineWidth = o.vlines.width;
        ctx.setLineDash(o.vlines.dash);
        o.vlines.at.forEach((v) => {
          const p = Math.round(x.getPixelForValue(v)) + 0.5;
          ctx.beginPath(); ctx.moveTo(p, a.top); ctx.lineTo(p, a.bottom); ctx.stroke();
        });
        ctx.setLineDash([]);
      }
      if (o.zero) {
        const p = Math.round(y.getPixelForValue(0)) + 0.5;
        ctx.strokeStyle = "#888"; ctx.lineWidth = 0.8; ctx.setLineDash([5, 3]);
        ctx.beginPath(); ctx.moveTo(a.left, p); ctx.lineTo(a.right, p); ctx.stroke();
        ctx.setLineDash([]);
      }

      // text labels in data coordinates
      ctx.fillStyle = "#000";
      ctx.textBaseline = "middle";
      (o.texts || []).forEach((t) => {
        ctx.font = t.size + "px " + SANS;
        ctx.textAlign = t.align || "center";
        ctx.fillText(t.text, x.getPixelForValue(t.x), y.getPixelForValue(t.y));
      });

      // legend box (panel c)
      if (o.legend) {
        const L = o.legend;
        const right = a.right - L.dx, top = a.top + L.dy, left = right - L.w;
        ctx.fillStyle = "rgba(255,255,255,0.9)";
        ctx.strokeStyle = "#d6d6d6"; ctx.lineWidth = 1;
        ctx.beginPath(); ctx.roundRect(left + 0.5, top + 0.5, L.w, L.h, 3); ctx.fill(); ctx.stroke();
        ctx.font = L.size + "px " + SANS;
        ctx.textAlign = "left";
        L.labels.forEach((lab, i) => {
          const d = chart.data.datasets.find((s) => s.label === lab);
          const yy = top + L.first + i * L.row;
          ctx.strokeStyle = d.borderColor; ctx.lineWidth = d.borderWidth; ctx.setLineDash(d.borderDash);
          ctx.beginPath(); ctx.moveTo(left + L.l0, yy); ctx.lineTo(left + L.l1, yy); ctx.stroke();
          ctx.setLineDash([]);
          ctx.fillStyle = "#000";
          ctx.fillText(lab, left + L.tx, yy);
        });
      }

      // frame and inward ticks
      ctx.strokeStyle = "#000"; ctx.lineWidth = 1;
      ctx.strokeRect(Math.round(a.left) + 0.5, Math.round(a.top) + 0.5, Math.round(a.width) - 1, Math.round(a.height) - 1);
      strokeTicks(ctx, a, x, scales.x2 ? ["bottom"] : ["bottom", "top"], o.minorX);
      strokeTicks(ctx, a, y, ["left", "right"], o.minorY);
      if (scales.x2) strokeTicks(ctx, a, scales.x2, ["top"], o.minorV);
      ctx.restore();
    },
  };

  // fixed axis sizes, no label overhang padding
  const fixH = (hgt) => (s) => { s.height = hgt; s.paddingLeft = 0; s.paddingRight = 0; s.paddingTop = 0; s.paddingBottom = 0; };
  const fixW = (wid) => (s) => { s.width = wid; s.paddingLeft = 0; s.paddingRight = 0; s.paddingTop = 0; s.paddingBottom = 0; };
  const NOGRID = { display: false, drawTicks: false };

  // ----- Panel builder -----
  function panel(p) {
    const cv = document.createElement("canvas");
    const w = p.box.R - p.box.L + p.pad.l + p.pad.r;
    const h = p.box.B - p.box.T + p.pad.t + p.pad.b;
    cv.width = w; cv.height = h;
    cv.style.width = w + "px"; cv.style.height = h + "px";
    cv.style.left = (p.box.L - p.pad.l) + "px";
    cv.style.top = (p.box.T - p.pad.t) + "px";
    document.body.appendChild(cv);

    const fam = SANS;
    const scales = {
      x: {
        type: "linear", position: "bottom", min: p.x.min, max: p.x.max,
        grid: NOGRID, border: { display: false },
        afterBuildTicks: (s) => { s.ticks = p.x.ticks.map((v) => ({ value: v })); },
        afterFit: fixH(p.pad.b),
        ticks: {
          display: !!p.x.labels, color: "#000", font: { family: fam, size: p.x.size || 12 },
          padding: p.x.pad || 0, maxRotation: 0, autoSkip: false, callback: (v) => String(v),
        },
        title: {
          display: !!p.x.labels, text: XTITLE, color: "#000",
          font: { family: fam, size: p.x.tsize || 12 }, padding: { top: 0, bottom: p.x.tpad || 0 },
        },
      },
      y: {
        type: "linear", position: "left", min: p.y.min, max: p.y.max,
        grid: NOGRID, border: { display: false },
        afterBuildTicks: (s) => { s.ticks = p.y.ticks.map((v) => ({ value: v })); },
        afterFit: fixW(p.pad.l),
        ticks: {
          color: "#000", font: { family: fam, size: p.y.size || 12 }, padding: p.y.pad || 4,
          autoSkip: false, callback: fmt(p.y.dec),
        },
      },
    };
    if (p.vel) {
      const l0 = p.vel.l0;
      scales.x2 = {
        type: "linear", position: "top",
        min: C_KMS * (p.x.min - l0) / l0, max: C_KMS * (p.x.max - l0) / l0,
        grid: NOGRID, border: { display: false },
        afterBuildTicks: (s) => { s.ticks = VEL_TICKS.map((v) => ({ value: v })); },
        afterFit: fixH(p.pad.t),
        ticks: {
          color: "#000", font: { family: fam, size: p.vel.size }, padding: p.vel.pad,
          maxRotation: 0, autoSkip: false, callback: (v) => String(v),
        },
        title: { display: true, text: VTITLE, color: "#000", font: { family: fam, size: p.vel.size }, padding: { top: p.vel.tpad, bottom: 0 } },
      };
    }

    const datasets = p.datasets.map((d, i) => Object.assign(d, { order: -i }));

    return new Chart(cv, {
      type: "line",
      data: { datasets },
      options: {
        responsive: false,
        animation: false,
        events: [],
        layout: { autoPadding: false, padding: { left: 0, bottom: 0, right: p.pad.r, top: p.vel ? 0 : p.pad.t } },
        plugins: { legend: { display: false }, tooltip: { enabled: false }, deco: p.deco },
        scales,
      },
      plugins: [deco],
    });
  }

  function residual(box, pad, x, pairs, lines, ylim, sizes) {
    return panel({
      box, pad,
      x: Object.assign({ labels: true, size: sizes.x, tsize: sizes.t, pad: sizes.xpad, tpad: sizes.tpad }, x),
      y: { min: ylim[0], max: ylim[1], ticks: RES_YTICKS, dec: 1, size: sizes.y, pad: 5 },
      datasets: [series(pairs, BLACK, 1, null, false)],
      deco: { vlines: lines, zero: true, minorX: x.minor, minorY: 0.02 },
    });
  }

  const dashLines = (at) => ({ at, color: "#7a7a7a", width: 1, dash: [4, 2, 1, 2] });
  const dotLines = (at) => ({ at, color: "#000", width: 0.8, dash: [1, 2] });
  const SMALL = { x: 12.5, t: 11.5, xpad: 2, tpad: 3, y: 12.5 };

  function init() {
    // ----- (a) optical spectrum -----
    panel({
      box: { L: 35, T: 40, R: 801, B: 272 }, pad: { l: 35, t: 40, r: 8, b: 40 },
      x: { min: 4140, max: 5467, ticks: A_XTICKS, labels: true, size: 13.5, tsize: 13.5, pad: 5, tpad: 2 },
      y: { min: 0.70, max: 1.85, ticks: A_YTICKS, dec: 1, size: 13.5, pad: 5 },
      datasets: [
        series(A_POWERLAW, GREY, 2, [7, 4], true),
        series(A_FE_LEFT, GREEN, 2.6, [2, 4], true),
        series(A_FE_RIGHT, GREEN, 2.6, [2, 4], true),
        series(A_FE_FIT, GREEN, 2.6, null, true),
        series(A_SPEC, BLACK, 1.3, null, false),
      ],
      deco: {
        bands: [[4140, A_FIT_WINDOW[0]], [A_FIT_WINDOW[1], 5467]],
        vlines: dotLines(A_LINES), minorX: 50, minorY: 0.05,
        texts: [
          { x: 4158, y: 1.745, text: "(a)", size: 14, align: "left" },
          { x: 4866, y: 1.676, text: "H\u03b2", size: 14 },
          { x: 4966, y: 1.425, text: "[O III]", size: 14 },
          { x: 5016, y: 1.568, text: "[O III]", size: 14 },
        ],
      },
    });

    // ----- (b) H-beta fit -----
    panel({
      box: { L: 871, T: 37, R: 1192, B: 240 }, pad: { l: 51, t: 37, r: 6, b: 0 },
      x: { min: 4698, max: 5126, ticks: B_XTICKS },
      y: { min: -0.05, max: 0.6, ticks: B_YTICKS, dec: 1, size: 13, pad: 5 },
      vel: { l0: 4861.3, size: 12, pad: 4, tpad: 4 },
      datasets: [
        series(B_SPEC, BLACK, 1, null, false),
        series(B_BROAD, BLACK, 1.8, null, true),
        series(B_FEII, GREEN, 1.8, null, true),
        series(B_BLUE1, BLUE, 1.8, null, true),
        series(B_BLUE2, BLUE, 1.8, null, true),
        series(B_BLUE3, BLUE, 1.8, null, true),
        series(B_NARROW, ORANGE, 1.6, null, true),
        series(B_TOTAL, MAGENTA, 1.6, [5, 3], true),
      ],
      deco: {
        vlines: dashLines(B_LINES), minorX: 10, minorY: 0.02, minorV: 2000,
        texts: [
          { x: 4714, y: 0.549, text: "(b)", size: 14, align: "left" },
          { x: 4878, y: 0.533, text: "H\u03b2", size: 12, align: "left" },
          { x: 5033, y: 0.431, text: "[O III]", size: 12 },
          { x: 5120, y: 0.549, text: "\u03c7\u00b2 = 1.048", size: 15, align: "right" },
        ],
      },
    });
    residual({ L: 871, T: 246, R: 1192, B: 281 }, { l: 51, t: 3, r: 6, b: 34 },
      { min: 4698, max: 5126, ticks: B_XTICKS, minor: 10 }, B_RESID, dashLines(B_LINES), [-0.11, 0.11],
      { x: 13, t: 12, xpad: 1, tpad: 1, y: 13 });

    // ----- (c) UV spectrum -----
    panel({
      box: { L: 38, T: 343, R: 1173, B: 532 }, pad: { l: 38, t: 10, r: 22, b: 52 },
      x: { min: 1300, max: 2100, ticks: C_XTICKS, labels: true, size: 16.5, tsize: 17, pad: 6, tpad: 1 },
      y: { min: 0.5, max: 2.0, ticks: C_YTICKS, dec: 1, size: 16.5, pad: 5 },
      datasets: [
        series(C_SPEC, BLACK, 1, null, false),
        series(C_CONT_SIIV, ORANGE, 2.6, [7, 4], false, "SiIV 1349\u00c5"),
        series(C_CONT_CIV, MAGENTA, 2.6, [7, 4], false, "CIV 1549\u00c5"),
        series(C_CONT_1900, PURPLE, 2.6, [7, 4], false, "1900\u00c5 blend"),
      ],
      deco: {
        vlines: dotLines(C_LINES), minorX: 10, minorY: 0.1,
        texts: [
          { x: 1311.6, y: 1.816, text: "(c)", size: 15, align: "left" },
          { x: 1386.9, y: 1.789, text: "Si IV", size: 16 },
          { x: 1545.3, y: 1.789, text: "C IV", size: 16 },
          { x: 1637, y: 1.38, text: "He II", size: 16 },
          { x: 1846.8, y: 1.281, text: "Al III", size: 16 },
          { x: 1883.6, y: 1.682, text: "Si III]", size: 16 },
          { x: 1906.5, y: 1.481, text: "C III]", size: 16 },
        ],
        legend: {
          labels: ["1900\u00c5 blend", "CIV 1549\u00c5", "SiIV 1349\u00c5"],
          dx: 8, dy: 9, w: 170, h: 86, first: 15, row: 28, l0: 6, l1: 42, tx: 54, size: 16.5,
        },
      },
    });

    // ----- (d) Si IV fit -----
    panel({
      box: { L: 32, T: 631, R: 383, B: 789 }, pad: { l: 32, t: 32, r: 10, b: 0 },
      x: { min: 1300, max: 1450, ticks: D_XTICKS },
      y: { min: -0.05, max: 0.5, ticks: D_YTICKS, dec: 1, size: 12.5, pad: 4 },
      vel: { l0: 1393.76, size: 11.5, pad: 3, tpad: 3 },
      datasets: [
        series(D_SPEC, BLACK, 1, null, false),
        series(D_BROAD1, BLACK, 1.8, null, true),
        series(D_BROAD2, BLACK, 1.8, null, true),
        series(D_BLUE, BLUE, 1.8, null, true),
        series(D_FEII, GREEN, 1.8, null, true),
        series(D_TOTAL, MAGENTA, 1.6, [5, 3], true),
      ],
      deco: {
        vlines: dashLines(D_LINES), minorX: 5, minorY: 0.02, minorV: 2000,
        texts: [
          { x: 1305.4, y: 0.436, text: "(d)", size: 17, align: "left" },
          { x: 1447.6, y: 0.454, text: "\u03c7\u00b2 = 1.005", size: 14, align: "right" },
        ],
      },
    });
    residual({ L: 32, T: 792, R: 383, B: 822 }, { l: 32, t: 3, r: 10, b: 35 },
      { min: 1300, max: 1450, ticks: D_XTICKS, minor: 5 }, D_RESID, dashLines(D_LINES), [-0.105, 0.11], SMALL);

    // ----- (e) C IV fit -----
    panel({
      box: { L: 432, T: 631, R: 783, B: 789 }, pad: { l: 40, t: 32, r: 10, b: 0 },
      x: { min: 1459, max: 1660.5, ticks: E_XTICKS },
      y: { min: -0.05, max: 0.352, ticks: E_YTICKS, dec: 1, size: 12.5, pad: 4 },
      vel: { l0: 1549.06, size: 11.5, pad: 3, tpad: 3 },
      datasets: [
        series(E_SPEC, BLACK, 1, null, false),
        series(E_ABS, BROWN, 1.6, null, true),
        series(E_BROAD1, BLACK, 1.8, null, true),
        series(E_BROAD2, BLACK, 1.8, null, true),
        series(E_FEII, GREEN, 1.8, null, true),
        series(E_BLUE, BLUE, 1.8, null, true),
        series(E_TOTAL, MAGENTA, 1.6, [5, 3], true),
      ],
      deco: {
        vlines: dashLines(E_LINES), minorX: 5, minorY: 0.02, minorV: 2000,
        texts: [
          { x: 1470, y: 0.297, text: "(e)", size: 17, align: "left" },
          { x: 1657.7, y: 0.314, text: "\u03c7\u00b2 = 1.010", size: 14, align: "right" },
        ],
      },
    });
    residual({ L: 432, T: 792, R: 783, B: 822 }, { l: 40, t: 3, r: 10, b: 35 },
      { min: 1459, max: 1660.5, ticks: E_XTICKS, minor: 5 }, E_RESID, dashLines(E_LINES), [-0.105, 0.11], SMALL);

    // ----- (f) 1900 A blend fit -----
    panel({
      box: { L: 832, T: 632, R: 1185, B: 789 }, pad: { l: 40, t: 33, r: 10, b: 0 },
      x: { min: 1790, max: 1976, ticks: F_XTICKS },
      y: { min: -0.011, max: 0.25, ticks: F_YTICKS, dec: 2, size: 12.5, pad: 4 },
      vel: { l0: 1853.5, size: 11.5, pad: 3, tpad: 3 },
      datasets: [
        series(F_SPEC, BLACK, 1, null, false),
        series(F_BROAD1, BLACK, 1.8, null, true),
        series(F_BROAD2, BLACK, 1.8, null, true),
        series(F_BROAD3, BLACK, 1.8, null, true),
        series(F_BROAD4, BLACK, 1.8, null, true),
        series(F_BROAD5, BLACK, 1.8, null, true),
        series(F_GREEN, GREEN, 1.8, null, true),
        series(F_BLUE1, BLUE, 1.8, null, true),
        series(F_BLUE2, BLUE, 1.8, null, true),
        series(F_TOTAL, MAGENTA, 1.6, [5, 3], true),
      ],
      deco: {
        vlines: dashLines(F_LINES), minorX: 5, minorY: 0.01, minorV: 2000,
        texts: [
          { x: 1798.4, y: 0.217, text: "(f)", size: 17, align: "left" },
          { x: 1972.8, y: 0.228, text: "\u03c7\u00b2 = 1.033", size: 14, align: "right" },
        ],
      },
    });
    residual({ L: 832, T: 792, R: 1185, B: 822 }, { l: 40, t: 3, r: 10, b: 35 },
      { min: 1790, max: 1976, ticks: F_XTICKS, minor: 5 }, F_RESID, dashLines(F_LINES), [-0.105, 0.11], SMALL);
  }

  if (document.readyState === "loading") {
    document.addEventListener("DOMContentLoaded", init);
  } else {
    init();
  }
})();
</script>
</body>
</html>
